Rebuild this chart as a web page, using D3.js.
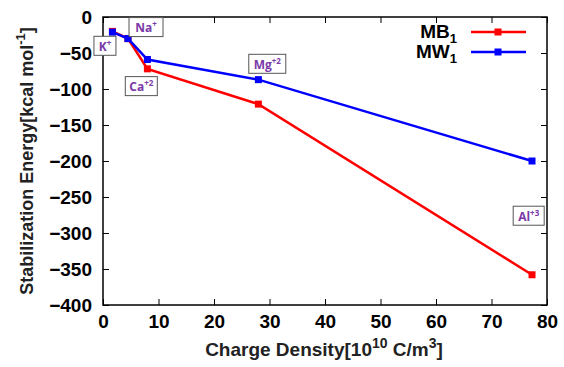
<!DOCTYPE html>
<html>
<head>
<meta charset="utf-8">
<script src="https://cdn.jsdelivr.net/npm/d3@7"></script>
<style>
  body { margin: 0; background: #fff; }
  text { font-family: "Liberation Sans", Arial, sans-serif; }
</style>
</head>
<body>
<div id="chart"></div>
<script>
// charge density [10^10 C/m^3] for each ion
const density = [1.7, 4.5, 8, 28, 77.3];
const ions = ["K", "Na", "Ca", "Mg", "Al"];
const mb1 = [-20, -30, -72, -121, -358];
const mw1 = [-21, -30, -59, -87, -200];
const xTicks = [0, 10, 20, 30, 40, 50, 60, 70, 80];
const yTicks = [0, -50, -100, -150, -200, -250, -300, -350, -400];

// ion labels: name, charge, box centre in data coords
const ionLabels = [
  {name: "K", sup: "+", x: 0.35, y: -40, w: 22},
  {name: "Na", sup: "+", x: 7.75, y: -14, w: 34},
  {name: "Ca", sup: "+2", x: 6.9, y: -96, w: 32},
  {name: "Mg", sup: "+2", x: 29.6, y: -65, w: 37},
  {name: "Al", sup: "+3", x: 76.7, y: -276, w: 31}
];

const width = 564, height = 367;
const margin = {top: 17, right: 17, bottom: 62, left: 103};

const svg = d3.select('#chart').append('svg')
  .attr('width', width).attr('height', height);

const x = d3.scaleLinear().domain([0, 80]).range([margin.left, width - margin.right]);
const y = d3.scaleLinear().domain([-400, 0]).range([height - margin.bottom, margin.top]);

// ticks on all four sides, pointing inward
const tickLen = 6;
svg.append('g').attr('transform', `translate(0,${y(-400)})`)
  .call(d3.axisBottom(x).tickValues(xTicks).tickSize(-tickLen).tickPadding(10).tickFormat(d3.format('d')))
  .call(g => g.select('.domain').remove());
svg.append('g').attr('transform', `translate(0,${y(0)})`)
  .call(d3.axisTop(x).tickValues(xTicks).tickSize(-tickLen).tickFormat(''))
  .call(g => g.select('.domain').remove());
svg.append('g').attr('transform', `translate(${x(0)},0)`)
  .call(d3.axisLeft(y).tickValues(yTicks).tickSize(-tickLen).tickPadding(11).tickFormat(d3.format('d')))
  .call(g => g.select('.domain').remove());
svg.append('g').attr('transform', `translate(${x(80)},0)`)
  .call(d3.axisRight(y).tickValues(yTicks).tickSize(-tickLen).tickFormat(''))
  .call(g => g.select('.domain').remove());

svg.selectAll('.tick line').attr('stroke', '#000').attr('stroke-width', 1);
svg.selectAll('.tick text')
  .attr('font-size', 19).attr('font-weight', 'bold').attr('fill', '#000')
  .style('font-family', '"Liberation Sans", Arial, sans-serif');

svg.append('rect')
  .attr('x', x(0)).attr('y', y(0))
  .attr('width', x(80) - x(0)).attr('height', y(-400) - y(0))
  .attr('fill', 'none').attr('stroke', '#000').attr('stroke-width', 1.5);

// axis titles
const xt = svg.append('text')
  .attr('x', 324).attr('y', 356)
  .attr('text-anchor', 'middle').attr('font-size', 19).attr('font-weight', 'bold').attr('fill', '#222');
xt.append('tspan').text('Charge Density[10');
xt.append('tspan').attr('font-size', 14).attr('dy', -8).text('10');
xt.append('tspan').attr('dy', 8).text(' C/m');
xt.append('tspan').attr('font-size', 14).attr('dy', -8).text('3');
xt.append('tspan').attr('dy', 8).text(']');

const yt = svg.append('text')
  .attr('transform', `translate(33,${(y(0) + y(-400)) / 2}) rotate(-90)`)
  .attr('text-anchor', 'middle').attr('font-size', 18).attr('font-weight', 'bold').attr('fill', '#222');
yt.append('tspan').text('Stabilization Energy[kcal mol');
yt.append('tspan').attr('font-size', 13).attr('dy', -8).text('-1');
yt.append('tspan').attr('dy', 8).text(']');

// series
const series = [
  {name: 'MB', values: mb1, color: '#ff0000'},
  {name: 'MW', values: mw1, color: '#0000ff'}
];
const line = d3.line().x(d => x(d[0])).y(d => y(d[1]));

series.forEach(s => {
  const pts = density.map((d, i) => [d, s.values[i]]);
  svg.append('path').datum(pts)
    .attr('d', line).attr('fill', 'none')
    .attr('stroke', s.color).attr('stroke-width', 2.5);
  svg.selectAll(null).data(pts).enter().append('rect')
    .attr('x', d => x(d[0]) - 3.5).attr('y', d => y(d[1]) - 3.5)
    .attr('width', 7).attr('height', 7).attr('fill', s.color);
});

// legend
series.forEach((s, i) => {
  const ly = 32 + i * 20;
  const t = svg.append('text')
    .attr('x', 457).attr('y', ly + 6)
    .attr('text-anchor', 'end').attr('font-size', 19).attr('font-weight', 'bold').attr('fill', '#000');
  t.append('tspan').text(s.name);
  t.append('tspan').attr('font-size', 13).attr('dy', 5).text('1');
  svg.append('line')
    .attr('x1', 471).attr('x2', 526).attr('y1', ly).attr('y2', ly)
    .attr('stroke', s.color).attr('stroke-width', 2.5);
  svg.append('rect')
    .attr('x', 498 - 3.5).attr('y', ly - 3.5).attr('width', 7).attr('height', 7)
    .attr('fill', s.color);
});

// ion label boxes
ionLabels.forEach(l => {
  const g = svg.append('g').attr('transform', `translate(${x(l.x)},${y(l.y)})`);
  const h = 19;
  g.append('rect')
    .attr('x', -l.w / 2).attr('y', -h / 2).attr('width', l.w).attr('height', h)
    .attr('fill', '#fff').attr('stroke', '#555').attr('stroke-width', 1);
  const t = g.append('text')
    .attr('text-anchor', 'middle').attr('dy', 5)
    .attr('font-size', 12).attr('font-weight', 'bold').attr('fill', '#7a3aa8')
    .style('font-family', '"Open Sans", "Noto Sans", sans-serif');
  t.append('tspan').text(l.name);
  t.append('tspan').attr('font-size', 8).attr('dy', -5).text(l.sup);
});
</script>
</body>
</html>
